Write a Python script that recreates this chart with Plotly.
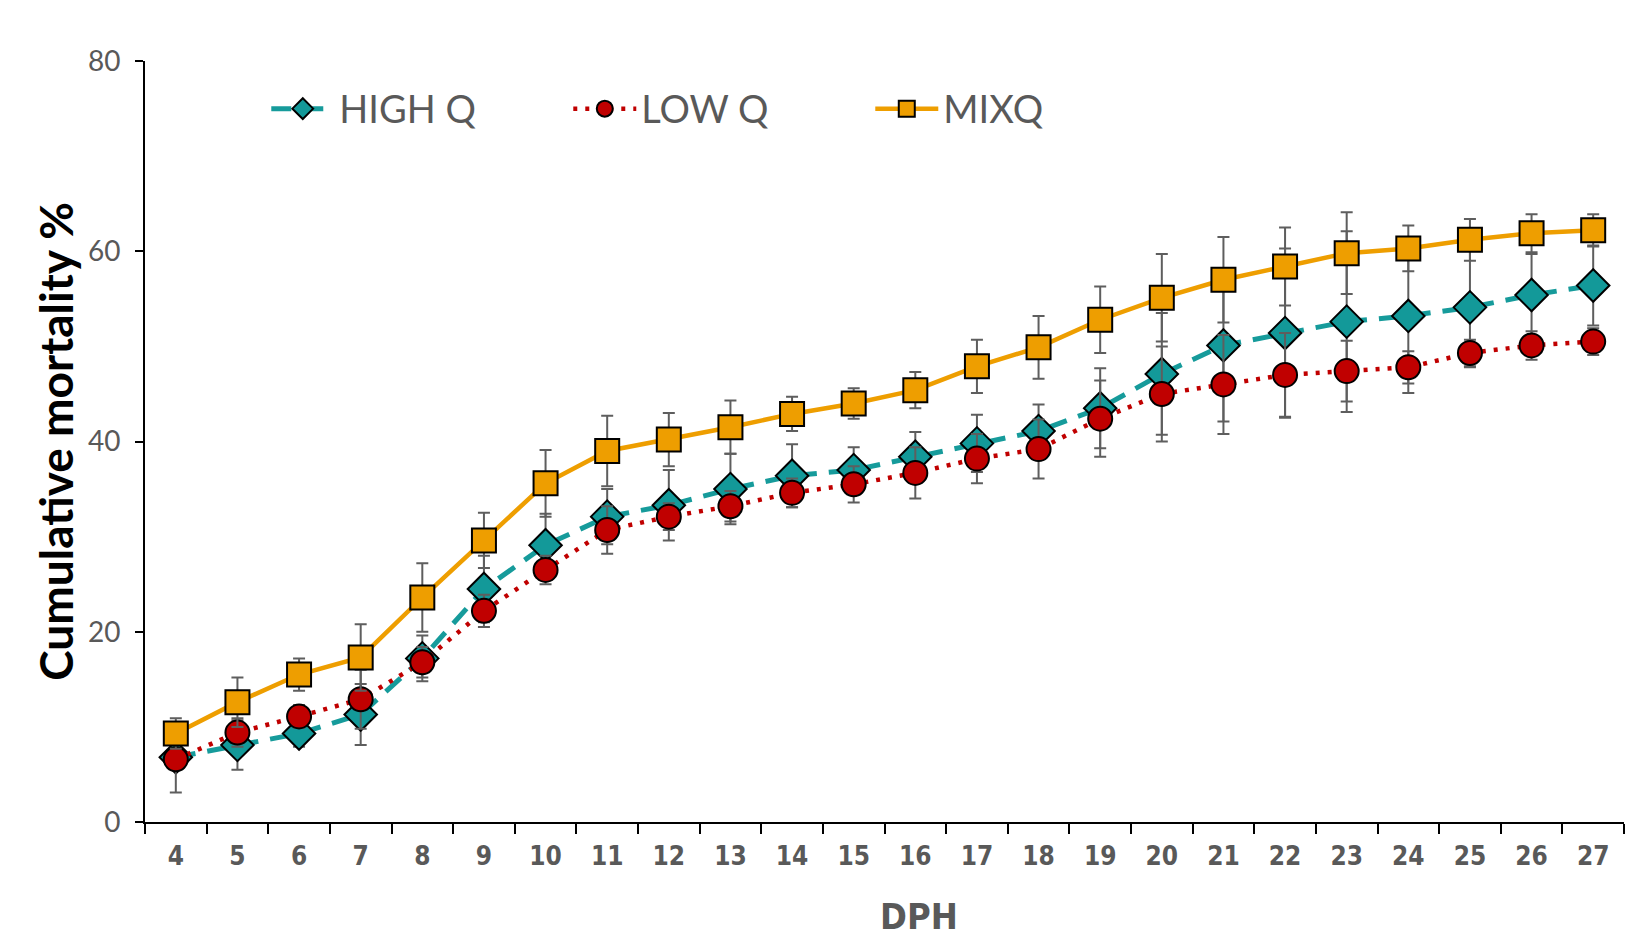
import plotly.graph_objects as go

days = list(range(4, 28))
day_labels = [str(d) for d in days]
boundaries = [d - 0.5 for d in days] + [27.5]

high_q = [6.8, 8.1, 9.3, 11.3, 17.2, 24.5, 29.1, 32.1, 33.3, 35.0, 36.4, 37.0,
          38.4, 39.8, 41.1, 43.5, 47.1, 50.1, 51.4, 52.6, 53.2, 54.1, 55.4, 56.4]
high_q_err = [0.8, 2.6, 1.4, 3.2, 2.4, 3.5, 3.3, 2.9, 3.7, 3.7, 3.3, 2.4,
              2.6, 3.0, 2.8, 4.2, 6.4, 8.0, 8.9, 9.5, 8.1, 6.3, 4.3, 4.2]
low_q = [6.6, 9.4, 11.1, 12.9, 16.8, 22.2, 26.5, 30.7, 32.1, 33.2, 34.6, 35.5,
         36.7, 38.2, 39.2, 42.4, 45.0, 46.0, 47.0, 47.4, 47.8, 49.3, 50.1, 50.5]
low_q_err = [3.5, 1.5, 1.2, 3.1, 1.6, 1.7, 1.5, 2.5, 1.4, 1.6, 1.5, 1.9,
             2.7, 2.6, 3.1, 4.0, 5.0, 5.2, 4.4, 3.2, 1.7, 1.4, 1.5, 1.4]
mix_q = [9.3, 12.6, 15.5, 17.3, 23.6, 29.6, 35.6, 39.0, 40.2, 41.5, 42.9, 44.0,
         45.4, 47.9, 49.9, 52.8, 55.1, 57.0, 58.4, 59.8, 60.3, 61.2, 61.9, 62.2]
mix_q_err = [1.6, 2.6, 1.7, 3.5, 3.6, 2.9, 3.5, 3.7, 2.8, 2.8, 1.8, 1.6,
             1.9, 2.8, 3.3, 3.5, 4.6, 4.5, 4.1, 4.3, 2.4, 2.2, 2.0, 1.7]

y_ticks = [0, 20, 40, 60, 80]

TEAL = "#169B9B"
RED = "#C00000"
ORANGE = "#EE9E00"
ERR = "#5E5E5E"
GREY = "#595959"
NARROW = "DejaVu Sans Condensed, Liberation Sans Narrow, Roboto, sans-serif"

def err(vals):
    return dict(type="data", array=vals, visible=True, color=ERR, thickness=2, width=6)

fig = go.Figure()
fig.add_trace(go.Scatter(
    x=days, y=high_q, name="HIGH Q", mode="lines+markers",
    line=dict(color=TEAL, width=5, dash="20px,12px"),
    marker=dict(symbol="diamond", size=25, color="#139999", line=dict(color="black", width=2)),
    error_y=err(high_q_err)))
fig.add_trace(go.Scatter(
    x=days, y=low_q, name="LOW Q", mode="lines+markers",
    line=dict(color=RED, width=4.5, dash="4px,8px"),
    marker=dict(symbol="circle", size=24, color=RED, line=dict(color="black", width=2)),
    error_y=err(low_q_err)))
fig.add_trace(go.Scatter(
    x=days, y=mix_q, name="MIXQ", mode="lines+markers",
    line=dict(color=ORANGE, width=4.5),
    marker=dict(symbol="square", size=24, color=ORANGE, line=dict(color="black", width=2)),
    error_y=err(mix_q_err)))

fig.update_layout(
    width=1626, height=928,
    paper_bgcolor="white", plot_bgcolor="white",
    margin=dict(l=137, r=10, t=53, b=114, autoexpand=False),
    xaxis=dict(
        range=[3.5, 27.5], tickmode="array", tickvals=days, ticktext=day_labels,
        ticks="", showgrid=False, zeroline=False,
        showline=True, linecolor="black", linewidth=2,
        tickfont=dict(family=NARROW, size=26, color=GREY, weight="bold"),
        ticklabelstandoff=10,
        minor=dict(tickmode="array", tickvals=boundaries, ticks="outside",
                   ticklen=10, tickwidth=2, tickcolor="black", showgrid=False),
    ),
    xaxis2=dict(
        overlaying="x", anchor="y", side="bottom", range=[3.5, 27.5],
        tickmode="array", tickvals=boundaries, ticks="inside", ticklen=10,
        tickwidth=2, tickcolor="black", showticklabels=False,
        showgrid=False, zeroline=False, showline=False,
    ),
    yaxis=dict(
        range=[0, 80], tickmode="array", tickvals=y_ticks,
        ticks="outside", ticklen=8, tickwidth=2, tickcolor="black",
        showgrid=False, zeroline=False,
        showline=True, linecolor="black", linewidth=2,
        tickfont=dict(family="Lato", size=28, color=GREY),
        ticklabelstandoff=9,
        title=dict(text="<b>Cumulative mortality %</b>", standoff=0,
                   font=dict(family="Lato", size=46, color="black")),
    ),
    yaxis2=dict(
        overlaying="y", anchor="x", side="left", range=[0, 80],
        tickmode="array", tickvals=y_ticks, ticks="inside", ticklen=8,
        tickwidth=2, tickcolor="black", showticklabels=False,
        showgrid=False, zeroline=False, showline=False,
    ),
    legend=dict(
        orientation="h", x=0.082, y=0.937, xanchor="left", yanchor="middle",
        font=dict(family="Lato", size=38, color=GREY),
        bgcolor="rgba(0,0,0,0)", entrywidth=224, entrywidthmode="pixels",
        itemwidth=63,
    ),
    annotations=[dict(
        text="<b>DPH</b>", xref="paper", yref="paper", x=0.523, y=-0.124,
        xanchor="center", yanchor="middle", showarrow=False,
        font=dict(family=NARROW, size=36, color=GREY),
    )],
    showlegend=True,
)

fig.write_html("out.html")
